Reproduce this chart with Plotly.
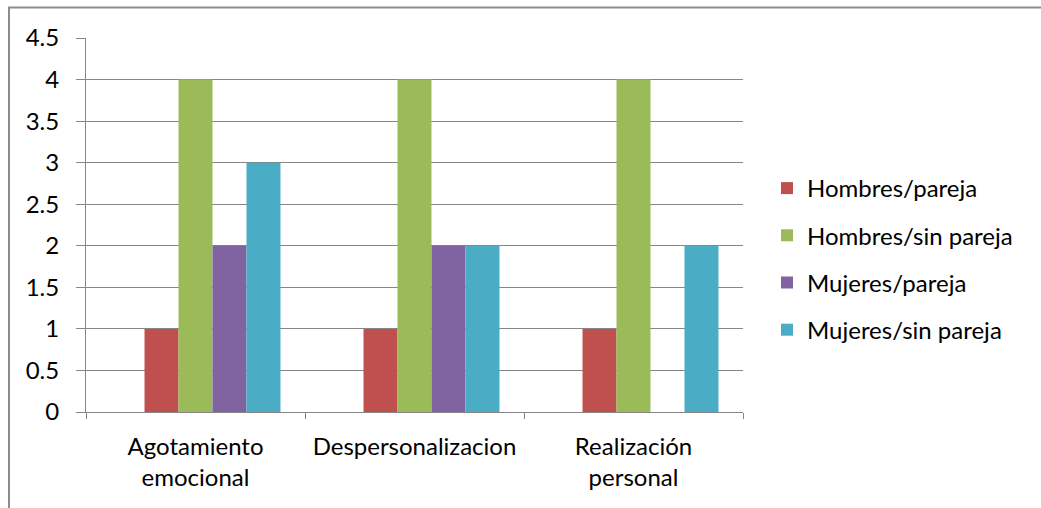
import plotly.graph_objects as go

categories = ["Agotamiento<br>emocional", "Despersonalizacion", "Realización<br>personal"]
series_names = ["Hombres/pareja", "Hombres/sin pareja", "Mujeres/pareja", "Mujeres/sin pareja"]
hombres_pareja = [1, 1, 1]
hombres_sin_pareja = [4, 4, 4]
mujeres_pareja = [2, 2, 0]
mujeres_sin_pareja = [3, 2, 2]
empty_series = [None, None, None]
colors = ["#C0504D", "#9BBB59", "#8064A2", "#4BACC6"]
y_ticks = [0, 0.5, 1, 1.5, 2, 2.5, 3, 3.5, 4, 4.5]
y_tick_text = ["0", "0.5", "1", "1.5", "2", "2.5", "3", "3.5", "4", "4.5"]

FONT = "Lato"
FS = 24
fig = go.Figure()
# empty leading series (kept in the original chart, occupies the first slot)
fig.add_trace(go.Bar(x=categories, y=empty_series, showlegend=False, hoverinfo="skip",
                     marker_color="rgba(0,0,0,0)"))
for name, vals, col in zip(series_names,
                           [hombres_pareja, hombres_sin_pareja, mujeres_pareja, mujeres_sin_pareja],
                           colors):
    fig.add_trace(go.Bar(x=categories, y=vals, name=name, marker_color=col,
                         marker_line_width=0, legendgroup=name))

W, H = 1041, 508
L, R, T, B = 86, 743, 38, 412
pw, ph = R - L, B - T

fig.update_layout(
    width=W, height=H,
    margin=dict(l=L, r=W - R, t=T, b=H - B, autoexpand=False),
    paper_bgcolor="white", plot_bgcolor="white",
    barmode="group", bargap=0.224, bargroupgap=0,
    font=dict(family=FONT, size=FS, color="#000000"),
    legend=dict(x=(767 - L) / pw, y=(B - 259) / ph, xanchor="left", yanchor="middle",
                traceorder="grouped", tracegroupgap=13, font=dict(size=FS, family=FONT),
                itemwidth=30),
    showlegend=True,
)
fig.update_xaxes(showline=True, linecolor="#868686", linewidth=1,
                 ticks="outside", ticklen=6, tickcolor="#868686", tickson="boundaries",
                 showgrid=False, tickfont=dict(size=FS, family=FONT), ticklabelstandoff=13)
fig.update_yaxes(range=[0, 4.5], tickvals=y_ticks, ticktext=y_tick_text,
                 showgrid=True, gridcolor="#868686", gridwidth=1,
                 showline=True, linecolor="#868686", linewidth=1,
                 ticks="outside", ticklen=9, tickcolor="#868686",
                 zeroline=False, tickfont=dict(size=FS, family=FONT), ticklabelstandoff=12)
# outer chart border
fig.add_shape(type="rect", xref="paper", yref="paper",
              x0=(9 - L) / pw, x1=(W + 20 - L) / pw,
              y0=(B - (H + 20)) / ph, y1=(B - 7.5) / ph,
              line=dict(color="#8c8c8c", width=2), fillcolor="rgba(0,0,0,0)", layer="below")

fig.write_html("out.html", config={"displayModeBar": False},
               post_script="document.body.style.margin='0';document.body.style.overflow='hidden';")
